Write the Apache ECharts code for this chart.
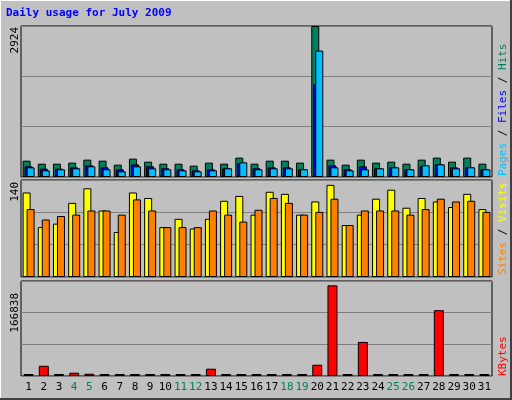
<!DOCTYPE html>
<html><head><meta charset="utf-8">
<script src="https://cdn.jsdelivr.net/npm/echarts@6/dist/echarts.min.js"></script>
<style>body{margin:0;background:#c0c0c0}#main{width:512px;height:400px}</style>
</head><body><div id="main"></div>
<script>
// Data
var days = ['1','2','3','4','5','6','7','8','9','10','11','12','13','14','15','16','17','18','19','20','21','22','23','24','25','26','27','28','29','30','31'];
var weekend = ['4','5','11','12','18','19','25','26'];
var hits  = [316,258,258,278,336,316,239,355,297,258,258,220,278,258,375,258,316,316,278,2924,336,239,336,278,297,258,336,375,297,375,258];
var files = [207,162,162,187,226,187,149,245,207,168,149,129,149,168,265,168,187,187,149,1796,226,149,207,168,187,149,207,245,187,187,149];
var pages = [187,129,149,168,207,149,110,207,168,149,129,110,129,168,284,149,168,168,149,2448,187,129,149,168,187,149,226,245,168,187,149];
var visits = [122,72,77,107,128,96,65,122,114,72,84,70,84,110,117,90,123,120,90,109,133,75,90,113,126,100,114,109,101,120,98];
var sites  = [98,83,88,90,96,96,90,112,96,72,72,72,96,90,80,97,114,107,90,94,113,75,96,96,96,90,98,113,109,110,94];
var kbytes = [0,18000,0,5800,4000,0,0,0,0,0,0,0,12800,0,0,0,0,0,0,19750,159200,0,59850,0,0,0,0,115600,0,0,0];
var maxLabels = [2924, 140, 166838];

var myChart = echarts.init(document.getElementById('main'));
var mono = 'DejaVu Sans Mono';
var grids = [
	{left: 21, right: 20, top: 26, height: 151},
	{left: 21, right: 20, top: 180, height: 97},
	{left: 21, right: 20, top: 281, height: 95}
];
grids.forEach(function(g){ g.show = true; g.borderColor = '#000'; g.borderWidth = 1; g.backgroundColor = '#c0c0c0'; });

function xAx(i, show){
	return {
		type: 'category', gridIndex: i, data: days,
		axisLine: {show: false}, axisTick: {show: false},
		axisLabel: {show: show, interval: 0, margin: 6, fontFamily: mono, fontSize: 11,
			color: function(v){ return weekend.indexOf(v) >= 0 ? '#00805c' : '#000'; }}
	};
}
function yAx(i, max){
	return {
		type: 'value', gridIndex: i, min: 0, max: max, interval: max / 3,
		axisLine: {show: false}, axisTick: {show: false}, axisLabel: {show: false},
		splitLine: {lineStyle: {color: '#808080', width: 1}}
	};
}
var bs = {borderColor: '#000', borderWidth: 1};

var option = {
	backgroundColor: '#c0c0c0',
	animation: false,
	grid: grids,
	xAxis: [xAx(0, false), xAx(1, false), xAx(2, true)],
	yAxis: [yAx(0, maxLabels[0]), yAx(1, maxLabels[1]), yAx(2, maxLabels[2])],
	series: [
		{type: 'bar', name: 'Hits', data: hits, barWidth: 8, barGap: '-75%', itemStyle: Object.assign({color: '#00805c'}, bs)},
		{type: 'bar', name: 'Files', data: files, barWidth: 8, barGap: '-75%', itemStyle: Object.assign({color: '#0000ff'}, bs)},
		{type: 'bar', name: 'Pages', data: pages, barWidth: 8, barGap: '-75%', itemStyle: Object.assign({color: '#00c0ff'}, bs)},
		{type: 'bar', name: 'Visits', xAxisIndex: 1, yAxisIndex: 1, data: visits, barWidth: 8, barGap: '-50%', itemStyle: Object.assign({color: '#ffff00'}, bs)},
		{type: 'bar', name: 'Sites', xAxisIndex: 1, yAxisIndex: 1, data: sites, barWidth: 8, barGap: '-50%', itemStyle: Object.assign({color: '#ff8000'}, bs)},
		{type: 'bar', name: 'KBytes', xAxisIndex: 2, yAxisIndex: 2, data: kbytes, barWidth: 10, barMinHeight: 2, itemStyle: Object.assign({color: '#ff0000'}, bs)}
	],
	graphic: [
		// bevelled outer frame
		{type: 'polyline', shape: {points: [[0, 399], [0, 0], [511, 0]]}, style: {stroke: '#fff', lineWidth: 2, fill: null}},
		{type: 'polyline', shape: {points: [[511, 0], [511, 399], [0, 399]]}, style: {stroke: '#404040', lineWidth: 2, fill: null}},
		{type: 'text', left: 6, top: 8, style: {text: 'Daily usage for July 2009', fill: '#0000ff', font: 'bold 11px ' + mono}},
		// max value labels
		{type: 'text', x: 10, y: 27, rotation: Math.PI / 2, style: {text: String(maxLabels[0]), fill: '#000', font: '11px ' + mono, align: 'right', verticalAlign: 'top'}},
		{type: 'text', x: 10, y: 182, rotation: Math.PI / 2, style: {text: String(maxLabels[1]), fill: '#000', font: '11px ' + mono, align: 'right', verticalAlign: 'top'}},
		{type: 'text', x: 10, y: 293, rotation: Math.PI / 2, style: {text: String(maxLabels[2]), fill: '#000', font: '11px ' + mono, align: 'right', verticalAlign: 'top'}},
		// right-hand legends
		{type: 'text', x: 498, y: 176, rotation: Math.PI / 2, style: {
			text: '{p|Pages}{s| / }{f|Files}{s| / }{h|Hits}', font: '11px ' + mono, verticalAlign: 'top',
			rich: {p: {fill: '#00c0ff'}, f: {fill: '#0000ff'}, h: {fill: '#00805c'}, s: {fill: '#000'}}}},
		{type: 'text', x: 498, y: 275, rotation: Math.PI / 2, style: {
			text: '{s|Sites}{k| / }{v|Visits}', font: '11px ' + mono, verticalAlign: 'top',
			rich: {s: {fill: '#ff8000'}, v: {fill: '#ffff00'}, k: {fill: '#000'}}}},
		{type: 'text', x: 498, y: 376, rotation: Math.PI / 2, style: {
			text: 'KBytes', fill: '#ff0000', font: '11px ' + mono, verticalAlign: 'top'}}
	]
};
myChart.setOption(option);
</script></body></html>
